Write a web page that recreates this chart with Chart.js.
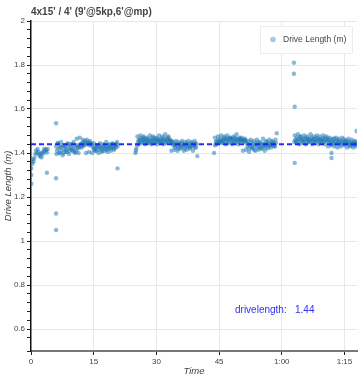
<!DOCTYPE html>
<html>
<head>
<meta charset="utf-8">
<script src="https://cdn.jsdelivr.net/npm/chart.js@4/dist/chart.umd.min.js"></script>
<style>
html,body{margin:0;padding:0;background:#fff;}
#wrap{width:361px;height:380px;}
</style>
</head>
<body>
<div id="wrap"><canvas id="c" width="361" height="380"></canvas></div>
<script>
// ---- data (time in minutes, drive length in m) ----
const chartTitle = "4x15' / 4' (9'@5kp,6'@mp)";
const seriesName = "Drive Length (m)";
const meanDriveLength = 1.44;
const yTickValues = [0.6, 0.8, 1, 1.2, 1.4, 1.6, 1.8, 2];
const xTickMinutes = [0, 15, 30, 45, 60, 75];

const warmupStart = 0.1, warmupEnd = 4.0;
const warmupValues = [1.365,1.350,1.372,1.360,1.378,1.395,1.412,1.400,1.418,1.405,1.392,1.385,1.398,1.380,1.402,1.395,1.410,1.420,1.408,1.415,1.402,1.418];

const seg1Start = 6.0, seg1End = 20.7;
const seg1Values = [1.43,1.41,1.445,1.42,1.40,1.43,
 1.425,1.41,1.435,1.40,1.42,1.43,1.415,1.405,1.425,1.44,1.41,1.42,
 1.43,1.415,1.44,1.42,1.405,1.43,1.41,1.435,1.42,1.40,1.425,1.44,
 1.435,1.445,1.43,1.45,1.44,1.455,1.445,1.46,1.44,1.45,1.435,1.455,1.445,1.44,
 1.43,1.42,1.415,1.425,1.41,1.43,1.42,1.435,1.415,1.425,1.43,1.42,1.41,1.425,1.435,1.42,1.43,1.415,1.425,1.42,1.435,1.43,1.42,1.425,1.44,1.43,1.42,1.435,1.425,1.44,1.43];
const seg1ExtraStart = 6.1, seg1ExtraEnd = 20.6;
const seg1ExtraValues = [1.395,1.445,1.40,1.45,1.39,1.435,1.405,1.445,1.395,1.44,1.41,1.45,1.40,1.465,1.43,1.47,1.425,1.46,1.435,1.40,1.445,1.405,1.44,1.40,1.445,1.41,1.435,1.40,1.445,1.405,1.44,1.41,1.45,1.405,1.44,1.41,1.445,1.415,1.44,1.45];

const seg2Start = 25.0, seg2End = 39.6;
const seg2Values = [1.40,1.42,1.435,
 1.45,1.46,1.455,1.465,1.45,1.46,1.47,1.455,1.46,1.45,1.465,1.455,1.46,1.445,1.455,1.465,1.45,1.46,1.455,1.47,1.46,1.45,1.455,1.465,1.46,1.45,1.46,1.455,1.465,1.45,1.46,1.455,1.47,1.46,1.45,1.455,1.465,1.475,1.455,1.46,1.45,1.455,
 1.445,1.435,1.44,1.425,1.435,1.445,1.43,1.42,1.44,1.435,1.425,1.445,1.43,1.44,1.435,1.42,1.43,1.445,1.435,1.43,1.44,1.425,1.435,1.445,1.43,1.44,1.435,1.425,1.445,1.44];
const seg2ExtraStart = 25.1, seg2ExtraEnd = 39.5;
const seg2ExtraValues = [1.41,1.475,1.44,1.48,1.445,1.475,1.44,1.47,1.445,1.48,1.44,1.475,1.445,1.47,1.44,1.48,1.445,1.475,1.44,1.485,1.445,1.47,1.455,1.41,1.45,1.415,1.455,1.41,1.45,1.42,1.455,1.41,1.45,1.415,1.455,1.42,1.45,1.41,1.455,1.425];

const seg3Start = 43.8, seg3End = 58.6;
const seg3Values = [1.40,1.435,
 1.45,1.455,1.445,1.46,1.45,1.455,1.465,1.45,1.46,1.455,
 1.46,1.47,1.455,1.465,1.46,1.45,1.465,1.47,1.46,1.455,1.465,1.45,1.46,1.47,1.455,1.465,1.46,1.45,1.465,1.455,1.46,1.47,1.455,1.46,1.45,1.465,1.455,
 1.445,1.43,1.44,1.42,1.435,1.45,1.425,1.44,1.43,1.415,1.445,1.435,1.44,1.425,1.45,1.43,1.44,1.42,1.435,1.445,1.43,1.44,1.425,1.435,1.45,1.44,1.43,1.445,1.435,1.44,1.45,1.435,1.445,1.44,
 1.43,1.445];
const seg3ExtraStart = 44.0, seg3ExtraEnd = 58.5;
const seg3ExtraValues = [1.47,1.44,1.475,1.445,1.48,1.445,1.475,1.44,1.48,1.445,1.47,1.44,1.475,1.445,1.485,1.44,1.47,1.455,1.41,1.46,1.415,1.455,1.405,1.46,1.42,1.455,1.41,1.46,1.415,1.45,1.42,1.465,1.41,1.455,1.42,1.46,1.425,1.455,1.43,1.46];

const seg4Start = 63.0, seg4End = 78.0;
const seg4Values = [1.45,1.46,1.455,1.47,1.46,1.45,1.465,1.475,1.46,1.455,1.465,1.45,1.46,1.47,1.455,1.465,1.46,1.45,1.465,1.455,1.47,1.46,1.455,1.465,1.45,1.46,1.47,1.455,1.46,1.465,1.45,1.46,1.455,1.465,1.46,1.45,1.47,1.455,1.46,1.465,
 1.455,1.445,1.46,1.45,1.44,1.455,1.445,1.465,1.45,1.44,1.455,1.46,1.445,1.45,1.44,1.455,1.445,1.45,1.46,1.44,1.45,1.445,1.455,1.44,1.45,1.445,1.435,1.45,1.44,1.445,1.435,1.45,1.44,1.445,1.44];
const seg4ExtraStart = 63.1, seg4ExtraEnd = 77.9;
const seg4ExtraValues = [1.48,1.445,1.485,1.44,1.475,1.445,1.48,1.44,1.475,1.45,1.485,1.44,1.475,1.445,1.48,1.44,1.475,1.445,1.48,1.44,1.475,1.43,1.47,1.435,1.465,1.43,1.47,1.425,1.465,1.43,1.47,1.435,1.46,1.425,1.465,1.43,1.46,1.425,1.455,1.43];

const outlierTimes  = [0.05, 0.05, 0.1, 3.8, 6.0, 6.0, 6.0, 6.0, 20.7, 39.8, 58.8, 62.9, 62.9, 63.1, 63.1, 71.9, 71.9, 77.9];
const outlierValues = [1.33, 1.30, 1.26, 1.31, 1.535, 1.285, 1.125, 1.05, 1.33, 1.386, 1.49, 1.81, 1.76, 1.61, 1.355, 1.40, 1.377, 1.50];

// ---- build points ----
function segPoints(start, end, vals) {
  const n = vals.length;
  return vals.map((v, i) => ({ x: start + (end - start) * i / (n - 1), y: v }));
}
const points = [].concat(
  segPoints(warmupStart, warmupEnd, warmupValues),
  segPoints(seg1Start, seg1End, seg1Values),
  segPoints(seg1ExtraStart, seg1ExtraEnd, seg1ExtraValues),
  segPoints(seg2Start, seg2End, seg2Values),
  segPoints(seg2ExtraStart, seg2ExtraEnd, seg2ExtraValues),
  segPoints(seg3Start, seg3End, seg3Values),
  segPoints(seg3ExtraStart, seg3ExtraEnd, seg3ExtraValues),
  segPoints(seg4Start, seg4End, seg4Values),
  segPoints(seg4ExtraStart, seg4ExtraEnd, seg4ExtraValues),
  outlierTimes.map((t, i) => ({ x: t, y: outlierValues[i] }))
);

const FONT = "'Liberation Sans', Arial, Helvetica, sans-serif";
const pointColor = 'rgba(31,119,180,0.52)';

const overlay = {
  id: 'overlay',
  afterDraw(chart) {
    const ctx = chart.ctx, a = chart.chartArea;
    ctx.save();
    // title
    ctx.fillStyle = '#444';
    ctx.font = 'bold 10px ' + FONT;
    ctx.textBaseline = 'middle';
    ctx.textAlign = 'left';
    ctx.fillText(chartTitle, 31, 12);
    // legend box
    const bx = 260, by = a.top + 5, bw = 92, bh = 27;
    ctx.fillStyle = 'rgba(255,255,255,0.95)';
    ctx.fillRect(bx, by, bw, bh);
    ctx.strokeStyle = '#ececec';
    ctx.lineWidth = 1;
    ctx.strokeRect(bx + 0.5, by + 0.5, bw, bh);
    ctx.fillStyle = 'rgba(31,119,180,0.4)';
    ctx.beginPath();
    ctx.arc(bx + 13, by + 13.5, 2.8, 0, Math.PI * 2);
    ctx.fill();
    ctx.fillStyle = '#444';
    ctx.font = '8.5px ' + FONT;
    ctx.fillText(seriesName, bx + 23, by + 14);
    // mean label
    ctx.fillStyle = '#2f2ff5';
    ctx.font = '10px ' + FONT;
    ctx.fillText('drivelength:   ' + meanDriveLength.toFixed(2), 235, 310);
    ctx.restore();
  }
};

const isMajorY = v => Math.abs(v * 5 - Math.round(v * 5)) < 1e-6;

new Chart(document.getElementById('c'), {
  type: 'scatter',
  data: {
    datasets: [
      {
        type: 'line',
        label: 'mean',
        data: [{ x: 0, y: meanDriveLength }, { x: 78, y: meanDriveLength }],
        borderColor: 'rgba(30,30,255,0.95)',
        borderWidth: 2,
        borderDash: [5, 3],
        pointRadius: 0,
        fill: false,
        order: 0
      },
      {
        label: seriesName,
        data: points,
        pointRadius: 2.2,
        pointBackgroundColor: pointColor,
        pointBorderWidth: 0,
        pointBorderColor: 'rgba(0,0,0,0)',
        order: 1
      }
    ]
  },
  options: {
    responsive: false,
    animation: false,
    layout: { padding: { left: 0, right: 3, top: 21, bottom: 0 } },
    plugins: { legend: { display: false }, title: { display: false }, tooltip: { enabled: false } },
    scales: {
      x: {
        type: 'linear',
        min: 0, max: 78,
        afterFit(s) { s.height = 29; },
        afterBuildTicks(s) { s.ticks = xTickMinutes.map(v => ({ value: v })); },
        ticks: {
          autoSkip: false,
          maxRotation: 0,
          padding: 2,
          color: '#444',
          font: { family: FONT, size: 8 },
          callback(v) {
            if (v < 60) return String(v);
            const h = Math.floor(v / 60), m = v % 60;
            return h + ':' + String(m).padStart(2, '0');
          }
        },
        grid: {
          color: c => (c.tick && c.tick.value !== 0) ? '#e8e8e8' : 'rgba(0,0,0,0)',
          tickColor: '#222',
          tickLength: 4,
          lineWidth: 1
        },
        border: { color: '#777', width: 2 },
        title: {
          display: true,
          text: 'Time',
          color: '#444',
          font: { family: FONT, size: 9.5, style: 'italic' },
          padding: { top: 2, bottom: 3 }
        }
      },
      y: {
        type: 'linear',
        min: 0.5, max: 2,
        afterFit(s) { s.width = 31; },
        ticks: {
          stepSize: 0.04,
          autoSkip: false,
          maxTicksLimit: 1000,
          padding: 2,
          color: '#444',
          font: { family: FONT, size: 8 },
          callback(v) {
            if (!isMajorY(v) || v < 0.55) return '';
            return String(Math.round(v * 10) / 10);
          }
        },
        grid: {
          color: c => (c.tick && isMajorY(c.tick.value) && c.tick.value > 0.55) ? '#e8e8e8' : 'rgba(0,0,0,0)',
          tickColor: '#222',
          tickLength: 4,
          lineWidth: 1
        },
        border: { color: '#111', width: 1.5 },
        title: {
          display: true,
          text: 'Drive Length (m)',
          color: '#444',
          font: { family: FONT, size: 9.5, style: 'italic' },
          padding: { top: 3, bottom: 0 }
        }
      }
    }
  },
  plugins: [overlay]
});
</script>
</body>
</html>
